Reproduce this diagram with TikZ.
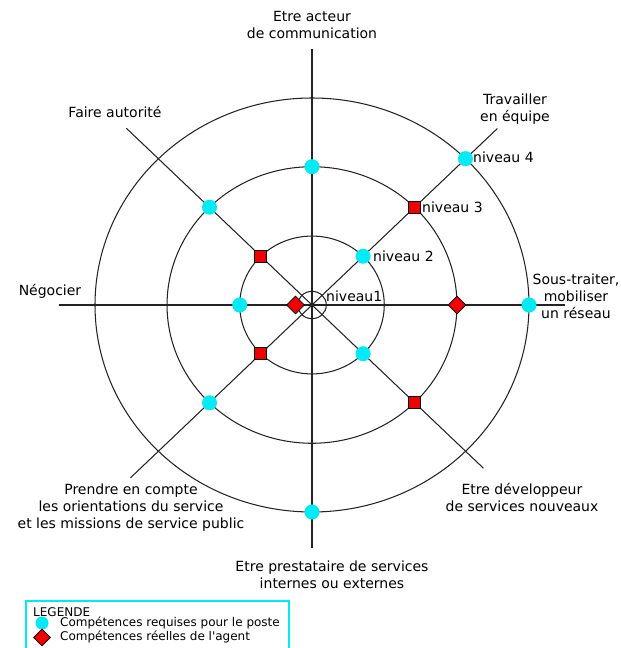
\documentclass[tikz,border=0pt]{standalone}
\usepackage{fontspec}
\setmainfont{DejaVu Sans}
\newfontfamily\plainsans{DejaVu Sans}
\usetikzlibrary{shapes.geometric}
\definecolor{reqcyan}{RGB}{0,235,245}
\definecolor{realred}{RGB}{240,0,0}
\definecolor{axisgray}{RGB}{35,35,35}
\tikzset{
  axisline/.style={draw=axisgray, line width=1.05pt},
  ringline/.style={draw=axisgray, line width=1.05pt},
  lbl/.style={align=center, inner sep=0pt, font=\plainsans\fontsize{14}{17}\selectfont},
  lvl/.style={anchor=west, inner sep=0pt, font=\plainsans\fontsize{14}{17}\selectfont},
  legtxt/.style={anchor=west, inner sep=0pt, font=\plainsans\fontsize{12}{13}\selectfont},
  reqdot/.style={circle, fill=reqcyan, draw=none, minimum size=15pt, inner sep=0pt},
  realsq/.style={rectangle, fill=realred, draw=black, line width=0.9pt, minimum size=12pt, inner sep=0pt},
  realdia/.style={diamond, fill=realred, draw=black, line width=0.6pt, minimum size=18pt, inner sep=0pt},
}
\begin{document}
\begin{tikzpicture}[x=1pt, y=1pt]
\useasboundingbox (0,0) rectangle (621,648);

\begin{scope}[shift={(312,343)}, xscale=217, yscale=207]
  % axis end points
  \coordinate (N) at (90:1.24);
  \coordinate (S) at (270:1.174);
  \coordinate (W) at (180:1.166);
  \coordinate (E) at (0:1.166);
  \coordinate (NE) at (45:1.208);
  \coordinate (NW) at (135:1.21);
  \coordinate (SE) at (315:1.117);
  \coordinate (SW) at (225:1.183);
  \coordinate (O) at (0,0);

  % axes
  \draw[axisline] (N) -- (S);
  \draw[axisline] (W) -- (E);
  \draw[axisline] (NW) -- (SE);
  \draw[axisline] (NE) -- (SW);

  % level rings
  \draw[ringline] (O) circle (0.066);
  \draw[ringline] (O) circle (0.333);
  \draw[ringline] (O) circle (0.668);
  \draw[ringline] (O) circle (1);

  % required levels
  \node[reqdot] (rN)   at (90:0.668) {};
  \node[reqdot] (rNE4) at (45:1) {};
  \node[reqdot] (rNE2) at (45:0.333) {};
  \node[reqdot] (rE)   at (0:1) {};
  \node[reqdot] (rSE)  at (315:0.333) {};
  \node[reqdot] (rS)   at (270:1) {};
  \node[reqdot] (rSW)  at (225:0.668) {};
  \node[reqdot] (rW)   at (180:0.333) {};
  \node[reqdot] (rNW)  at (135:0.668) {};

  % actual levels
  \node[realsq]  (aNE) at (45:0.668) {};
  \node[realsq]  (aSE) at (315:0.668) {};
  \node[realsq]  (aSW) at (225:0.333) {};
  \node[realsq]  (aNW) at (135:0.333) {};
  \node[realdia] (aE)  at (0:0.668) {};
  \node[realdia] (aW)  at (180:0.076) {};
\end{scope}

% level labels
\node[lvl] (n4) at (473,491) {niveau 4};
\node[lvl] (n3) at (422,441) {niveau 3};
\node[lvl] (n2) at (373,392) {niveau 2};
\node[lvl] (n1) at (326,352) {niveau1};

% competence labels
\node[lbl] (tN)  at (312,622.5) {Etre acteur\\de communication};
\node[lbl] (tNW) at (115,536) {Faire autorité};
\node[lbl] (tNE) at (515,538.5) {Travailler\\en équipe};
\node[lbl] (tW)  at (50,357) {Négocier};
\node[lbl] (tE)  at (576,352) {Sous-traiter,\\mobiliser\\un réseau};
\node[lbl] (tSE) at (522,150.5) {Etre développeur\\de services nouveaux};
\node[lbl] (tSW) at (131,140.5) {Prendre en compte\\les orientations du service\\et les missions de service public};
\node[lbl] (tS)  at (332,73.5) {Etre prestataire de services\\internes ou externes};

% legend
\draw[draw=reqcyan, line width=1.4pt] (26,-3) rectangle (289,47);
\node[legtxt] (legT) at (33,36) {LEGENDE};
\node[reqdot, minimum size=13pt] (legC) at (42,25) {};
\node[realdia, minimum size=17pt] (legD) at (42,10.5) {};
\node[legtxt] (legCt) at (60,25) {Compétences requises pour le poste};
\node[legtxt] (legDt) at (60,11) {Compétences réelles de l'agent};
\end{tikzpicture}
\end{document}
